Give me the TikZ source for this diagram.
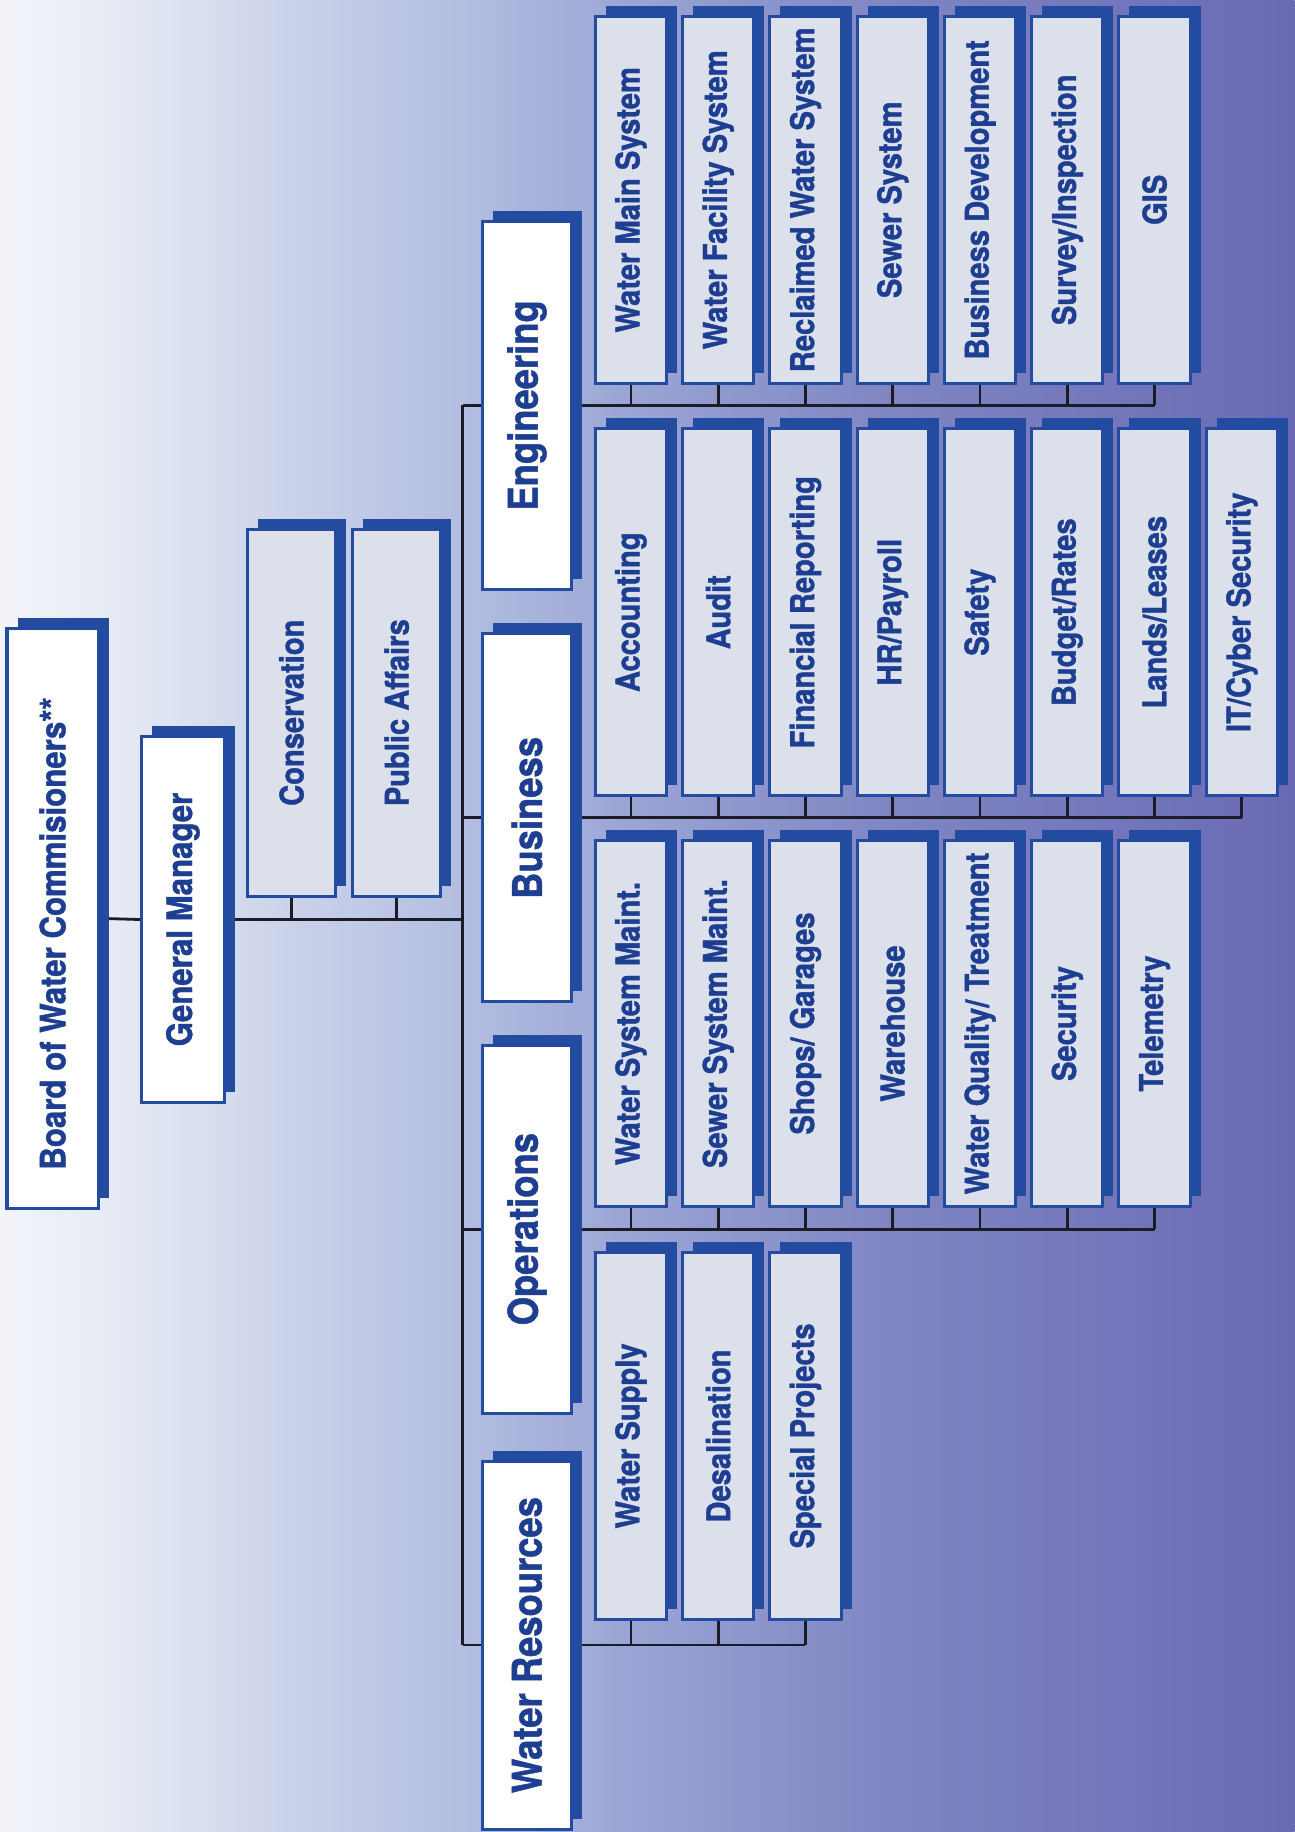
\documentclass[tikz,border=0pt]{standalone}
\usepackage{fontspec}
\newfontfamily\orgfont{texgyreheros-bold.otf}[FakeStretch=0.89, FakeBold=1.2]
\usetikzlibrary{shadows}
\definecolor{boxblue}{HTML}{234BA0}
\definecolor{textblue}{HTML}{1E3F91}
\definecolor{subgray}{HTML}{DCE0EA}
\definecolor{linecol}{HTML}{1C1C28}
\definecolor{bgz}{HTML}{F2F4F9}
\definecolor{bga}{HTML}{E6EAF4}
\definecolor{bgb}{HTML}{CAD2EA}
\definecolor{bgc}{HTML}{B2BDE0}
\definecolor{bgd}{HTML}{99A3D4}
\definecolor{bge}{HTML}{8087C3}
\definecolor{bgf}{HTML}{6A6AB4}
\pgfdeclarehorizontalshading{bgshade}{100bp}{color(0bp)=(bgz); color(25bp)=(bgz);
  color(29.5bp)=(bga); color(36.3bp)=(bgb); color(43bp)=(bgc); color(49.8bp)=(bgd);
  color(58.8bp)=(bge); color(75bp)=(bgf); color(100bp)=(bgf)}
\pgfdeclarelayer{bglayer}
\pgfdeclarelayer{linelayer}
\pgfsetlayers{bglayer,linelayer,main}
\begin{document}
\begin{tikzpicture}[x=1pt,y=-1pt,
  org/.style={draw=boxblue, line width=2.6pt, inner sep=0pt, text=textblue,
    drop shadow={shadow xshift=9pt, shadow yshift=9pt, fill=boxblue, opacity=1}},
  topbox/.style={org, fill=white, font=\orgfont\fontsize{30}{32}\selectfont},
  deptbox/.style={org, fill=white, minimum width=76pt, minimum height=315pt,
    font=\orgfont\fontsize{35}{37}\selectfont},
  subbox/.style={org, fill=subgray, minimum width=61pt, minimum height=314pt,
    font=\orgfont\fontsize{28}{30}\selectfont},
  conn/.style={draw=linecol, line width=2.4pt}]
\useasboundingbox (0,0) rectangle (1108,1568);
\begin{pgfonlayer}{bglayer}
  \shade[shading=bgshade] (0,0) rectangle (1108,1568);
\end{pgfonlayer}

% top levels
\node[topbox, minimum width=78pt, minimum height=496pt] (board) at (45,786)
  {\rotatebox{90}{Board of Water Commisioners**\hspace{26pt}}};
\node[topbox, minimum width=71pt, minimum height=314pt] (gm) at (156.5,787)
  {\rotatebox{90}{General Manager}};
\node[subbox, minimum width=75pt] (cons) at (249.5,610) {\rotatebox{90}{Conservation}};
\node[subbox, minimum width=75pt] (pa) at (339.5,610) {\rotatebox{90}{Public Affairs}};

% departments
\node[deptbox] (eng) at (451,347) {\rotatebox{90}{Engineering}};
\node[deptbox] (bus) at (451,700) {\rotatebox{90}{Business}};
\node[deptbox] (ops) at (451,1052) {\rotatebox{90}{Operations}};
\node[deptbox] (wr) at (451,1408) {\rotatebox{90}{Water Resources}};

% sub units
\foreach \t [count=\i] in {Water Main System, Water Facility System, Reclaimed Water System,
  Sewer System, Business Development, Survey/Inspection, GIS}
  \node[subbox] (e\i) at ({540+74.7*(\i-1)},171) {\rotatebox{90}{\t}};
\foreach \t [count=\i] in {Accounting, Audit, Financial Reporting, HR/Payroll, Safety,
  Budget/Rates, Lands/Leases, IT/Cyber Security}
  \node[subbox] (b\i) at ({540+74.7*(\i-1)},524) {\rotatebox{90}{\t}};
\foreach \t [count=\i] in {Water System Maint., Sewer System Maint., Shops/ Garages,
  Warehouse, Water Quality/ Treatment, Security, Telemetry}
  \node[subbox] (o\i) at ({540+74.7*(\i-1)},876) {\rotatebox{90}{\t}};
\foreach \t [count=\i] in {Water Supply, Desalination, Special Projects}
  \node[subbox] (w\i) at ({540+74.7*(\i-1)},1229) {\rotatebox{90}{\t}};

\coordinate (tgm) at (396,787);

\begin{pgfonlayer}{linelayer}
  \draw[conn] (board.east) -- (gm.west);
  \draw[conn] (gm.east) -- (tgm);
  \draw[conn] (cons.south) -- (cons.south |- tgm);
  \draw[conn] (pa.south) -- (pa.south |- tgm);
  \draw[conn] (eng.west -| tgm) -- (wr.west -| tgm);
  \foreach \d in {eng,bus,ops,wr}
    \draw[conn] (\d.west -| tgm) -- (\d.west);
  \draw[conn] (eng.east) -- (eng.east -| e7.south);
  \foreach \i in {1,...,7} \draw[conn] (e\i.south) -- (e\i.south |- eng.east);
  \draw[conn] (bus.east) -- (bus.east -| b8.south);
  \foreach \i in {1,...,8} \draw[conn] (b\i.south) -- (b\i.south |- bus.east);
  \draw[conn] (ops.east) -- (ops.east -| o7.south);
  \foreach \i in {1,...,7} \draw[conn] (o\i.south) -- (o\i.south |- ops.east);
  \draw[conn] (wr.east) -- (wr.east -| w3.south);
  \foreach \i in {1,...,3} \draw[conn] (w\i.south) -- (w\i.south |- wr.east);
\end{pgfonlayer}
\end{tikzpicture}
\end{document}
